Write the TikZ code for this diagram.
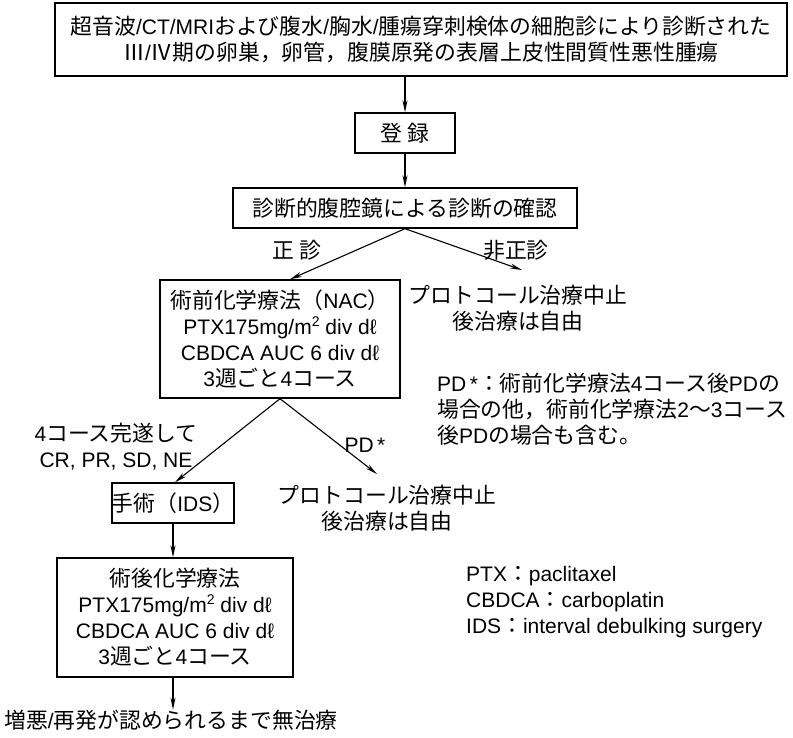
\documentclass[tikz,border=0pt]{standalone}
\usepackage{fontspec}
\setmainfont{Liberation Sans}
\newfontfamily\jp[Scale=1.04]{Noto Sans CJK JP}
\usetikzlibrary{arrows.meta,calc}
\newcommand\J[1]{{\jp #1}}
\newcommand\sqr{\raisebox{0.4em}{\fontsize{14}{14}\selectfont 2}}
\begin{document}
\begin{tikzpicture}[x=1pt,y=-1pt,
  every node/.style={font=\fontsize{21}{26}\selectfont, inner sep=0pt},
  box/.style={draw, line width=1.4pt, align=center},
  txt/.style={align=center},
  ltxt/.style={align=left, anchor=west},
  arr/.style={line width=1.1pt, -{Stealth[length=12pt,width=5pt]}}
]
\useasboundingbox[fill=white] (0,0) rectangle (793,737);
% boxes
\node[box, minimum width=732, minimum height=73] (top) at (421,39.5)
  {\J{超音波}/CT/MRI\J{および腹水}/\J{胸水}/\J{腫瘍穿刺検体の細胞診により診断された}\\
   \J{Ⅲ}/\J{Ⅳ期の卵巣，卵管，腹膜原発の表層上皮性間質性悪性腫瘍}};
\node[box, minimum width=100, minimum height=40] (reg) at (405,133) {\J{登 録}};
\node[box, minimum width=344, minimum height=40] (conf) at (405,208) {\J{診断的腹腔鏡による診断の確認}};
\node[box, minimum width=240, minimum height=118] (nac) at (280,339)
  {\J{術前化学療法（}NAC\J{）}\\PTX175mg/m\sqr{} div dℓ\\CBDCA AUC 6 div dℓ\\3\J{週ごと}4\J{コース}};
\node[box, minimum width=120, minimum height=40] (surg) at (173,503) {\J{手術（}IDS\J{）}};
\node[box, minimum width=236, minimum height=119] (post) at (175,617.5)
  {\J{術後化学療法}\\PTX175mg/m\sqr{} div dℓ\\CBDCA AUC 6 div dℓ\\3\J{週ごと}4\J{コース}};
% plain texts
\node[txt] (stop1) at (518,308) {\J{プロトコール治療中止}\\\J{後治療は自由}};
\node[txt] (stop2) at (387,508) {\J{プロトコール治療中止}\\\J{後治療は自由}};
\node[txt] (fin) at (171,720) {\J{増悪}/\J{再発が認められるまで無治療}};
\node[txt] (lseis) at (297,250) {\J{正 診}};
\node[txt] (lhi) at (516,250) {\J{非正診}};
\node[txt] (lcomp) at (116,447) {4\J{コース完遂して}\\CR, PR, SD, NE};
\node[txt] (lpd) at (365,445) {PD\,*};
\node[ltxt] (note) at (437,409) {PD\,*\J{：術前化学療法}4\J{コース後}PD\J{の}\\\J{場合の他，術前化学療法}2\J{〜}3\J{コース}\\\J{後}PD\J{の場合も含む。}};
\node[ltxt] (leg) at (466,602) {PTX\J{：}paclitaxel\\CBDCA\J{：}carboplatin\\IDS\J{：}interval debulking surgery};
% connectors
\coordinate (r1) at (522,270);
\coordinate (r2) at (377,474);
\draw[arr] (top.south -| reg.north) -- (reg.north);
\draw[arr] (reg.south) -- (conf.north);
\draw[arr] (conf.south) -- ([xshift=10pt]nac.north);
\draw[arr] (conf.south) -- (r1);
\draw[arr] (nac.south) -- ([xshift=2pt]surg.north);
\draw[arr] (nac.south) -- (r2);
\draw[arr] (surg.south) -- (surg.south |- post.north);
\draw[arr] (surg.south |- post.south) -- (surg.south |- fin.north);
\end{tikzpicture}
\end{document}
